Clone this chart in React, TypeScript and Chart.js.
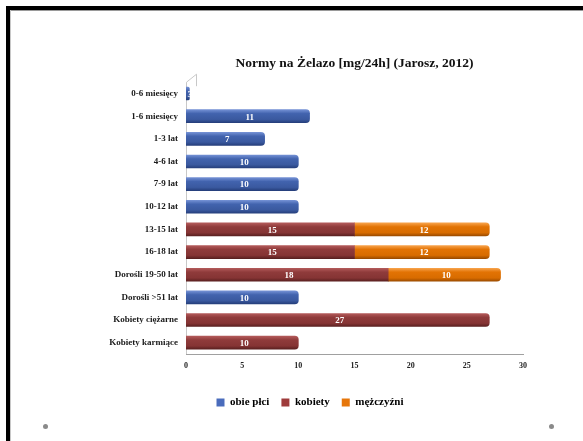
import React, { useEffect, useRef } from "react";
import { Chart, registerables } from "chart.js";

Chart.register(...registerables);

const categories = [
  "0-6 miesięcy",
  "1-6 miesięcy",
  "1-3 lat",
  "4-6 lat",
  "7-9 lat",
  "10-12 lat",
  "13-15 lat",
  "16-18 lat",
  "Dorośli 19-50 lat",
  "Dorośli >51 lat",
  "Kobiety ciężarne",
  "Kobiety karmiące",
];
const obiePlci = [0.3, 11, 7, 10, 10, 10, null, null, null, 10, null, null];
const kobiety = [null, null, null, null, null, null, 15, 15, 18, null, 27, 10];
const mezczyzni = [null, null, null, null, null, null, 12, 12, 10, null, null, null];
const xTicks = [0, 5, 10, 15, 20, 25, 30];
const seriesNames = ["obie płci", "kobiety", "mężczyźni"];
const title = "Normy na Żelazo [mg/24h] (Jarosz, 2012)";

const SERIF = '"Liberation Serif", "Times New Roman", serif';

const shades: Record<string, string[]> = {
  blue: ["#7390d4", "#4263ae", "#3a599f", "#263f7c"],
  red: ["#b35a5a", "#8f3b3b", "#853434", "#5a2020"],
  orange: ["#f7a24a", "#e27304", "#d86c00", "#9c4c00"],
};
const legendColors = ["#4a6cbc", "#9e3b3b", "#e6760a"];

function gradientFor(key: string) {
  return (ctx: any) => {
    const chart = ctx.chart;
    const c = shades[key];
    if (ctx.type !== "data" || !chart.chartArea || !chart.scales.y) return c[1];
    const y = chart.scales.y.getPixelForValue(ctx.dataIndex);
    const g = chart.ctx.createLinearGradient(0, y - 6.5, 0, y + 6.5);
    g.addColorStop(0, c[0]);
    g.addColorStop(0.3, c[1]);
    g.addColorStop(0.75, c[2]);
    g.addColorStop(1, c[3]);
    return g;
  };
}

function fmt(v: number) {
  if (v < 1) return String(v).split(".")[1];
  return String(v);
}

const barLabels = {
  id: "barLabels",
  afterDatasetsDraw(chart: any) {
    const ctx = chart.ctx;
    ctx.save();
    ctx.font = `bold 9px ${SERIF}`;
    ctx.fillStyle = "#ffffff";
    ctx.textAlign = "center";
    ctx.textBaseline = "middle";
    chart.data.datasets.forEach((ds: any, i: number) => {
      const meta = chart.getDatasetMeta(i);
      meta.data.forEach((el: any, j: number) => {
        const v = ds.data[j];
        if (v == null) return;
        const p = el.getProps(["x", "base", "y"], true);
        ctx.fillText(fmt(v), (p.x + p.base) / 2 + 2, p.y + 1);
      });
    });
    ctx.restore();
  },
};

const wall = {
  id: "wall",
  beforeDatasetsDraw(chart: any) {
    const { left, top, bottom } = chart.chartArea;
    const ctx = chart.ctx;
    ctx.save();
    ctx.strokeStyle = "#c8c8c8";
    ctx.lineWidth = 1;
    ctx.beginPath();
    ctx.moveTo(left + 0.5, bottom);
    ctx.lineTo(left + 0.5, top);
    ctx.lineTo(left + 10.5, top - 8);
    ctx.lineTo(left + 10.5, top + 4);
    ctx.stroke();
    ctx.restore();
  },
};

export default function App() {
  const ref = useRef<HTMLCanvasElement | null>(null);
  useEffect(() => {
    if (!ref.current) return;
    const chart = new Chart(ref.current, {
      type: "bar",
      data: {
        labels: categories,
        datasets: [
          { label: seriesNames[0], data: obiePlci, backgroundColor: gradientFor("blue") },
          { label: seriesNames[1], data: kobiety, backgroundColor: gradientFor("red") },
          { label: seriesNames[2], data: mezczyzni, backgroundColor: gradientFor("orange") },
        ].map((d) => ({ ...d, barThickness: 13, borderRadius: 4, borderSkipped: "start" })) as any,
      },
      options: {
        indexAxis: "y",
        responsive: false,
        animation: false,
        devicePixelRatio: 1,
        layout: { padding: { left: 97, right: 60, top: 40, bottom: 23 } },
        scales: {
          x: {
            stacked: true,
            min: 0,
            max: 30,
            afterBuildTicks: (s: any) => {
              s.ticks = xTicks.map((v) => ({ value: v }));
            },
            afterFit: (s: any) => {
              s.height = 31;
            },
            grid: { display: false, drawTicks: false },
            border: { display: true, color: "#a0a0a0" },
            ticks: {
              padding: 7,
              color: "#222",
              font: { family: SERIF, size: 8, weight: "bold" },
            },
          },
          y: {
            stacked: true,
            afterFit: (s: any) => {
              s.width = 89;
            },
            grid: { display: false, drawTicks: false },
            border: { display: false },
            ticks: {
              padding: 8,
              color: "#1a1a1a",
              font: { family: SERIF, size: 9, weight: "bold" },
            },
          },
        },
        plugins: {
          title: {
            display: true,
            text: title,
            fullSize: false,
            color: "#111",
            font: { family: SERIF, size: 13.5, weight: "bold" },
            padding: { top: 15, bottom: 11 },
          },
          legend: {
            position: "bottom",
            labels: {
              boxWidth: 8,
              boxHeight: 8,
              padding: 12,
              color: "#111",
              font: { family: SERIF, size: 11, weight: "bold" },
              generateLabels: () =>
                seriesNames.map((n, i) => ({
                  text: n,
                  fillStyle: legendColors[i],
                  strokeStyle: legendColors[i],
                  lineWidth: 0,
                  datasetIndex: i,
                  hidden: false,
                })),
            },
          },
          tooltip: { enabled: false },
        },
      } as any,
      plugins: [wall, barLabels],
    });
    return () => chart.destroy();
  }, []);

  return (
    <div style={{ position: "fixed", left: 0, top: 0, width: 583, height: 441, background: "#fff", overflow: "hidden" }}>
      <canvas ref={ref} width={583} height={441} style={{ position: "absolute", left: 0, top: 0, width: 583, height: 441 }} />
      <div style={{ position: "absolute", left: 6, top: 6, width: 577, height: 4, background: "#000" }} />
      <div style={{ position: "absolute", left: 6, top: 6, width: 4, height: 435, background: "#000" }} />
      <div style={{ position: "absolute", left: 10, top: 10, width: 573, height: 1, background: "#9a9a9a" }} />
      <div style={{ position: "absolute", left: 10, top: 10, width: 1, height: 431, background: "#c8c8c8" }} />
      <div style={{ position: "absolute", left: 43, top: 424, width: 5, height: 5, borderRadius: "50%", background: "#8a8a8a" }} />
      <div style={{ position: "absolute", left: 549, top: 424, width: 5, height: 5, borderRadius: "50%", background: "#8a8a8a" }} />
    </div>
  );
}
